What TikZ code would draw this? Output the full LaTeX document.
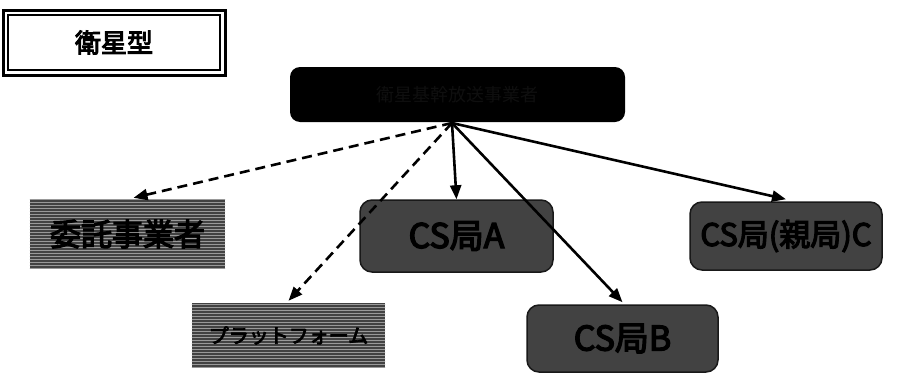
\documentclass[tikz,border=0pt]{standalone}
\usepackage{fontspec}
\newfontfamily\cjk[AutoFakeBold=4]{Noto Sans CJK JP}
\usetikzlibrary{arrows.meta,patterns}
\tikzset{
  cslabel/.style={rounded corners=12pt, fill=black!74, draw=black!90, line width=1.5pt,
    inner sep=0pt, font=\cjk\bfseries\fontsize{34}{34}\selectfont, text=black},
  hatchbox/.style={fill=black!74, draw=none, inner sep=0pt, text=black},
  conn/.style={line width=2.6pt, -{Triangle[length=14pt,width=11pt]}},
  dconn/.style={conn, dash pattern=on 10pt off 6pt}
}
\begin{document}
\begin{tikzpicture}[x=1pt,y=-1pt]
\useasboundingbox[fill=white] (0,0) rectangle (899,383);
% title box
\node[draw=black, line width=3pt, minimum width=222pt, minimum height=65pt, inner sep=0pt] (titleout) at (114,42.5) {};
\node[draw=black, line width=1.8pt, minimum width=212pt, minimum height=55pt, inner sep=0pt,
  font=\cjk\bfseries\fontsize{26}{26}\selectfont] (title) at (114,42.5) {衛星型};
% top box
\node[rounded corners=10pt, fill=black, minimum width=335pt, minimum height=55pt, inner sep=0pt,
  text=black!94, font=\cjk\fontsize{18}{18}\selectfont] (top) at (457.5,94.5) {衛星基幹放送事業者};
\coordinate (hub) at (452,123);
% lower boxes
\node[hatchbox, minimum width=195pt, minimum height=68pt] (itaku) at (127.5,234) {};
\fill[pattern=horizontal lines, pattern color=black!40] (itaku.south west) rectangle (itaku.north east);
\node[font=\cjk\bfseries\fontsize{31}{31}\selectfont, text=black] at (itaku) {委託事業者};
\node[hatchbox, minimum width=193pt, minimum height=65pt] (plat) at (288.5,335.5) {};
\fill[pattern=horizontal lines, pattern color=black!40] (plat.south west) rectangle (plat.north east);
\node[font=\cjk\bfseries\fontsize{20}{20}\selectfont, text=black] at (plat) {プラットフォーム};
\node[cslabel, minimum width=193pt, minimum height=72pt] (csA) at (456.5,236) {CS局A};
\node[cslabel, minimum width=191pt, minimum height=67pt] (csB) at (622.5,338.5) {CS局B};
\node[cslabel, minimum width=192pt, minimum height=68pt, font=\cjk\bfseries\fontsize{31}{31}\selectfont] (csC) at (786,236) {CS局(親局)C};
% connectors
\draw[dconn] (hub) -- ([xshift=6pt,yshift=2pt]itaku.north);
\draw[dconn] (hub) -- ([yshift=2pt]plat.north);
\draw[conn] (hub) -- (csA.north);
\draw[conn] (hub) -- ([yshift=2pt]csB.north);
\draw[conn] (hub) -- ([yshift=2pt]csC.north);
\end{tikzpicture}
\end{document}
